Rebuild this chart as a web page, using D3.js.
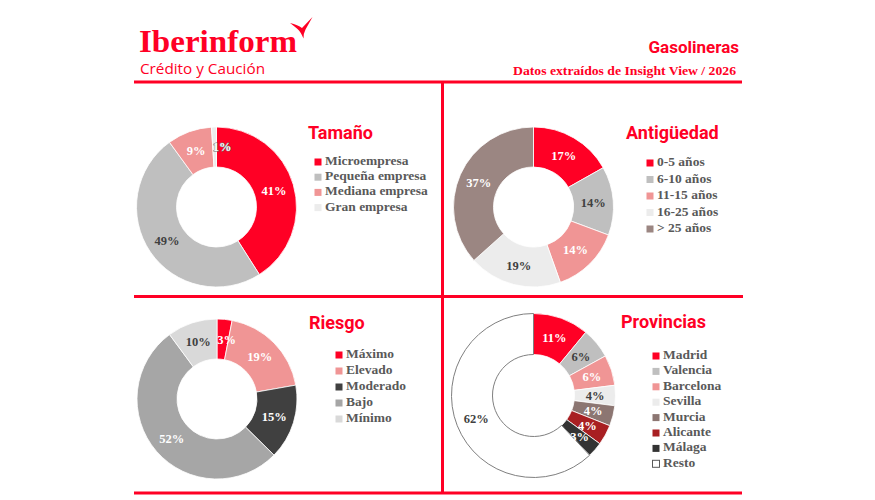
<!DOCTYPE html>
<html>
<head>
<meta charset="utf-8">
<script src="https://cdn.jsdelivr.net/npm/d3@7"></script>
<style>
  body { margin: 0; background: #fff; }
  svg { display: block; }
</style>
</head>
<body>
<svg id="chart"></svg>
<script>
const w = 875;
const h = 500;

// data
const tamanoLabels = ['Microempresa', 'Pequeña empresa', 'Mediana empresa', 'Gran empresa'];
const tamanoValues = [41, 49, 9, 1];

const antigLabels = ['0-5 años', '6-10 años', '11-15 años', '16-25 años', '> 25 años'];
const antigValues = [17, 14, 14, 19, 37];

const riesgoLabels = ['Máximo', 'Elevado', 'Moderado', 'Bajo', 'Mínimo'];
const riesgoValues = [3, 19, 15, 52, 10];

const provLabels = ['Madrid', 'Valencia', 'Barcelona', 'Sevilla', 'Murcia', 'Alicante', 'Málaga', 'Resto'];
const provValues = [11, 6, 6, 4, 4, 4, 3, 62];

// palette
const red = '#ff0025';
const dark = '#404040';
const legendGrey = '#595959';
const tamanoColors = [red, '#bfbfbf', '#f09595', '#ececec'];
const tamanoText = ['#fff', dark, '#fff', '#fff'];
const antigColors = [red, '#bfbfbf', '#f09595', '#ececec', '#9b8682'];
const antigText = ['#fff', dark, '#fff', dark, '#fff'];
const riesgoColors = [red, '#f09595', '#404040', '#a6a6a6', '#d9d9d9'];
const riesgoText = ['#fff', '#fff', '#fff', '#fff', dark];
const provColors = [red, '#bfbfbf', '#f09595', '#ececec', '#8c7672', '#a81f22', '#333333', '#ffffff'];
const provText = ['#fff', dark, '#fff', dark, '#fff', '#fff', '#fff', dark];

const serif = "'Liberation Serif', serif";
const sans = "Roboto, 'Liberation Sans', sans-serif";

const svg = d3.select('#chart')
    .attr('width', w)
    .attr('height', h);

// header
svg.append('text')
    .attr('x', 139)
    .attr('y', 52)
    .attr('fill', red)
    .attr('font-family', serif)
    .attr('font-weight', 'bold')
    .attr('font-size', 31)
    .attr('textLength', 158)
    .attr('lengthAdjust', 'spacingAndGlyphs')
    .text('Iberinform');

svg.append('path')
    .attr('d', 'M290,23 Q298,25 302,28 L312.5,17 L305.5,29.5 Q303.5,33 303.5,38.5 Q300.5,31.5 297.5,29 Q294,26 290,23 Z')
    .attr('fill', red);

svg.append('text')
    .attr('x', 140)
    .attr('y', 74)
    .attr('fill', red)
    .attr('font-family', "'Open Sans', sans-serif")
    .attr('font-size', 15)
    .attr('textLength', 125)
    .attr('lengthAdjust', 'spacingAndGlyphs')
    .text('Crédito y Caución');

svg.append('text')
    .attr('x', 739)
    .attr('y', 53)
    .attr('text-anchor', 'end')
    .attr('fill', red)
    .attr('font-family', sans)
    .attr('font-weight', 'bold')
    .attr('font-size', 17)
    .text('Gasolineras');

svg.append('text')
    .attr('x', 736)
    .attr('y', 75)
    .attr('text-anchor', 'end')
    .attr('fill', red)
    .attr('font-family', serif)
    .attr('font-weight', 'bold')
    .attr('font-size', 13)
    .attr('textLength', 223)
    .attr('lengthAdjust', 'spacingAndGlyphs')
    .text('Datos extraídos de Insight View / 2026');

// frame lines
const lines = [
    [134, 82, 742, 82],
    [134, 296.5, 743, 296.5],
    [134, 493, 742, 493],
    [442.5, 82, 442.5, 494]
];
svg.selectAll('line.frame')
    .data(lines)
    .join('line')
    .attr('class', 'frame')
    .attr('x1', d => d[0])
    .attr('y1', d => d[1])
    .attr('x2', d => d[2])
    .attr('y2', d => d[3])
    .attr('stroke', red)
    .attr('stroke-width', 3);

const panels = [
    { title: 'Tamaño', labels: tamanoLabels, values: tamanoValues, colors: tamanoColors, text: tamanoText,
      cx: 216.5, cy: 207, r: 80, titleX: 308, titleY: 139, legX: 314, legY: 165, legDy: 15.2 },
    { title: 'Antigüedad', labels: antigLabels, values: antigValues, colors: antigColors, text: antigText,
      cx: 533.5, cy: 207, r: 80, titleX: 626, titleY: 139, legX: 646, legY: 166, legDy: 16.5 },
    { title: 'Riesgo', labels: riesgoLabels, values: riesgoValues, colors: riesgoColors, text: riesgoText,
      cx: 217, cy: 399, r: 80, titleX: 309, titleY: 329, legX: 335, legY: 358, legDy: 16 },
    { title: 'Provincias', labels: provLabels, values: provValues, colors: provColors, text: provText,
      cx: 533.5, cy: 395.5, r: 82, titleX: 621, titleY: 328, legX: 652, legY: 359, legDy: 15.4 }
];

const pie = d3.pie().sort(null).value(d => d.value);

panels.forEach(p => {
    const data = p.values.map((v, i) => ({ label: p.labels[i], value: v, color: p.colors[i], text: p.text[i] }));
    const arc = d3.arc().innerRadius(p.r / 2).outerRadius(p.r);

    const g = svg.append('g')
        .attr('transform', `translate(${p.cx},${p.cy})`);

    g.selectAll('path')
        .data(pie(data))
        .join('path')
        .attr('d', arc)
        .attr('fill', d => d.data.color)
        .attr('stroke', d => d.data.label === 'Resto' ? '#7f7f7f' : '#fff')
        .attr('stroke-width', d => d.data.label === 'Resto' ? 1 : 0.8);

    // tiny slices: label sits a bit clockwise of the centroid, as in the original
    g.selectAll('text')
        .data(pie(data))
        .join('text')
        .attr('transform', d => {
            const c = arc.centroid(d);
            const nudge = d.data.value <= 1 ? 7.5 : (d.data.value <= 3 && d.index === 0 ? 4 : 0);
            return `translate(${c[0] + nudge},${c[1]})`;
        })
        .attr('text-anchor', 'middle')
        .attr('dy', '0.35em')
        .attr('fill', d => d.data.text)
        .attr('stroke', d => d.data.value <= 1 ? '#6f6f6f' : 'none')
        .attr('stroke-width', 0.9)
        .attr('paint-order', 'stroke')
        .attr('font-family', serif)
        .attr('font-weight', 'bold')
        .attr('font-size', 12.5)
        .text(d => d.data.value + '%');

    // title
    svg.append('text')
        .attr('x', p.titleX)
        .attr('y', p.titleY)
        .attr('fill', red)
        .attr('font-family', sans)
        .attr('font-weight', 'bold')
        .attr('font-size', 18)
        .text(p.title);

    // legend
    const leg = svg.append('g')
        .attr('transform', `translate(${p.legX},${p.legY})`);
    const items = leg.selectAll('g')
        .data(data)
        .join('g')
        .attr('transform', (d, i) => `translate(0,${i * p.legDy})`);
    items.append('rect')
        .attr('x', 0.5)
        .attr('y', -6.5)
        .attr('width', 7)
        .attr('height', 7)
        .attr('fill', d => d.color)
        .attr('stroke', d => d.label === 'Resto' ? '#595959' : 'none')
        .attr('stroke-width', 1);
    items.append('text')
        .attr('x', 11)
        .attr('y', 0)
        .attr('fill', legendGrey)
        .attr('font-family', serif)
        .attr('font-weight', 'bold')
        .attr('font-size', 13.5)
        .text(d => d.label);
});
</script>
</body>
</html>
